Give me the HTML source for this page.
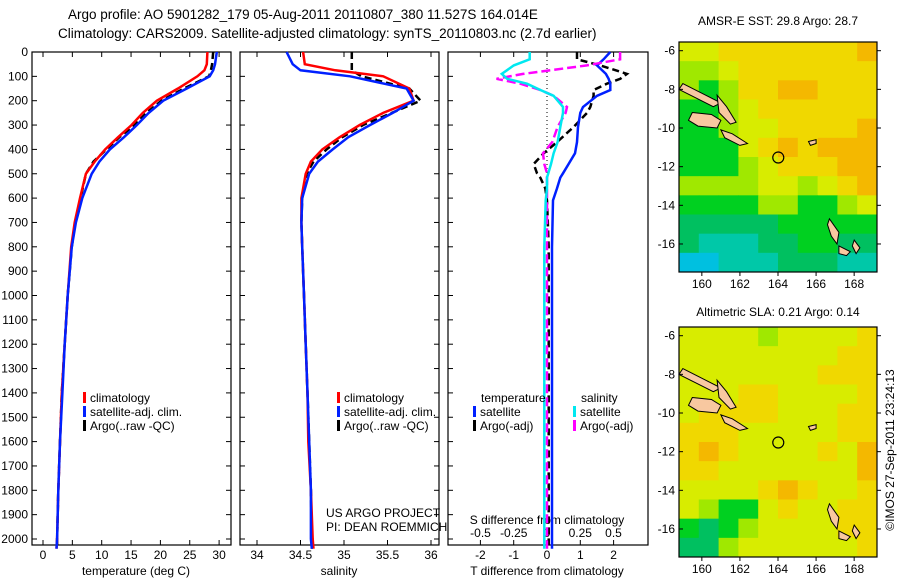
<!DOCTYPE html>
<html><head><meta charset="utf-8"><style>
html,body{margin:0;padding:0;background:#fff;}
svg{display:block;font-family:"Liberation Sans",sans-serif;}
text{fill:#000;}
</style></head><body>
<svg id="c" width="900" height="580" viewBox="0 0 900 580" xmlns="http://www.w3.org/2000/svg">
<text x="68" y="19" font-size="13.5">Argo profile: AO 5901282_179 05-Aug-2011 20110807_380 11.527S 164.014E</text>
<text x="58" y="38" font-size="13.5">Climatology: CARS2009. Satellite-adjusted climatology: synTS_20110803.nc (2.7d earlier)</text>
<text x="778" y="25" font-size="12" text-anchor="middle">AMSR-E SST: 29.8 Argo: 28.7</text>
<text x="778" y="316" font-size="12" text-anchor="middle">Altimetric SLA: 0.21 Argo: 0.14</text>
<text transform="translate(894,450) rotate(-90)" font-size="12" text-anchor="middle">©IMOS 27-Sep-2011 23:24:13</text>
<g id="g"></g>
</svg>
<script>
// ---------- data ----------
const depthGrid = [0,50,75,100,150,200,250,300,350,400,450,500,600,700,800,1000,1200,1400,1600,1800,2000,2040];
const climT = [28.0,27.9,27.5,26.3,23.0,19.4,17.0,15.1,12.8,10.6,8.8,7.3,6.3,5.4,4.8,4.2,3.7,3.2,2.9,2.6,2.4,2.3];
const satT  = [29.6,29.3,29.0,28.4,24.5,20.5,18.0,16.0,13.8,11.4,9.6,8.3,6.7,5.6,4.9,4.2,3.7,3.3,2.9,2.6,2.4,2.3];
const argoT = [29.0,28.8,28.6,28.3,24.0,20.2,17.6,15.6,13.0,10.8,8.6,7.3,6.4,5.5,4.9,4.2,3.7,3.2,2.9,2.6,2.4,2.4];
const climS = [34.53,34.55,34.9,35.45,35.75,35.8,35.45,35.18,34.95,34.75,34.62,34.56,34.51,34.51,34.52,34.54,34.56,34.58,34.59,34.62,34.64,34.65];
const satS  = [34.34,34.41,34.5,35.07,35.72,35.8,35.56,35.3,35.05,34.87,34.7,34.6,34.52,34.51,34.52,34.54,34.56,34.58,34.6,34.62,34.62,34.63];
const argoS = [35.09,35.09,35.09,35.2,35.75,35.88,35.55,35.22,34.98,34.8,34.65,34.57,34.52,34.51,34.52,34.54,34.56,34.58,34.6,34.62,34.63,34.63];
const diffDepth = [0,30,55,90,110,130,156,180,226,250,308,370,416,460,498,516,560,609,800,1200,1600,2040];
const satTdiff  = [1.9,1.7,1.5,1.77,1.85,1.9,1.9,1.5,1.08,1.0,0.93,0.9,0.84,0.65,0.48,0.4,0.3,0.18,0.15,0.15,0.15,0.15];
const argoTdiff = [0.9,0.9,1.6,2.4,2.2,1.8,1.4,1.4,1.3,1.2,0.8,0.3,-0.1,-0.4,-0.3,-0.2,-0.05,0.0,0.05,0.05,0.05,0.05];
const satSdiff  = [-0.13,-0.13,-0.25,-0.34,-0.3,-0.15,-0.05,0.05,0.12,0.12,0.1,0.08,0.05,0.03,0.01,0.0,0.0,-0.01,-0.02,-0.02,-0.02,-0.02];
const argoSdiff = [0.55,0.55,0.3,-0.18,-0.38,-0.2,-0.05,0.05,0.15,0.14,0.08,0.04,-0.03,-0.02,0.0,0.0,0.0,0.0,0.0,0.0,0.0,0.0];
const depthTicks = [0,100,200,300,400,500,600,700,800,900,1000,1100,1200,1300,1400,1500,1600,1700,1800,1900,2000];
const tempTicks = [0,5,10,15,20,25,30];
const salTicks = [34,34.5,35,35.5,36];
const tdiffTicks = [-2,-1,0,1,2];
const sdiffTicks = [-0.5,-0.25,0,0.25,0.5];
const sstGrid = [
[7,7,8,8,8,8,8,8,8,9],
[6,6,7,8,8,8,8,8,8,8],
[6,5,6,8,8,9,9,8,8,8],
[5,5,6,7,8,8,8,8,8,8],
[5,5,6,7,7,8,8,8,8,9],
[5,5,5,7,8,9,8,9,9,9],
[5,5,5,6,7,8,8,8,9,9],
[6,6,6,6,7,7,6,7,8,9],
[5,5,5,5,6,6,5,5,6,7],
[4,4,4,4,4,5,5,5,5,5],
[4,3,3,3,4,4,5,5,4,4],
[2,2,3,3,3,4,4,4,3,3]];
const slaGrid = [
[7,7,7,7,6,7,7,7,7,8],
[7,7,7,7,7,7,7,7,8,8],
[7,7,7,7,7,7,7,8,8,8],
[7,7,7,8,8,7,7,7,7,8],
[7,8,8,8,8,7,7,7,8,8],
[8,8,8,7,7,7,7,7,8,8],
[8,9,8,7,7,7,7,8,7,9],
[8,8,7,7,7,7,7,7,7,9],
[7,7,7,7,8,9,8,7,7,8],
[7,6,5,5,7,8,7,7,8,8],
[5,4,5,6,7,7,7,7,8,8],
[4,4,6,7,7,7,7,7,7,8]];
const latTicks = [-6,-8,-10,-12,-14,-16];
const lonTicks = [160,162,164,166,168];

// ---------- helpers ----------
const NS="http://www.w3.org/2000/svg", G=document.getElementById('g');
function mk(tag,attrs,parent){const e=document.createElementNS(NS,tag);for(const k in attrs)e.setAttribute(k,attrs[k]);(parent||G).appendChild(e);return e;}
function txt(s,x,y,attrs,parent){const e=mk('text',Object.assign({x:x,y:y,'font-size':12},attrs||{}),parent);e.textContent=s;return e;}
const TOP=52, BOT=545;
const yD = d => TOP + d*0.2435;
const xT = v => 43 + v*5.87;
const xS = v => 257 + (v-34)*87;
const xTd = v => 547 + v*33.3;
const xSd = v => 547 + v*133;

function frame(x0,x1,name){
  const r=mk('rect',{x:x0,y:TOP,width:x1-x0,height:BOT-TOP,fill:'none',stroke:'#000','stroke-width':1.2});
  
  
}
function line(xs,ds,fx,color,dash,name){
  const p=xs.map((v,i)=>fx(v).toFixed(1)+','+yD(ds[i]).toFixed(1)).join(' ');
  const e=mk('polyline',{points:p,fill:'none',stroke:color,'stroke-width':2.5});
  if(dash)e.setAttribute('stroke-dasharray',dash);
  
  
}
function xticks(ticks,fx,name){
  ticks.forEach(t=>{
    mk('line',{x1:fx(t),x2:fx(t),y1:BOT,y2:BOT-5,stroke:'#000'});
    mk('line',{x1:fx(t),x2:fx(t),y1:TOP,y2:TOP+5,stroke:'#000'});
    const e=txt(String(t),fx(t),559,{'text-anchor':'middle'});
    
    
  });
}

frame(32,231,'temperature-panel'); frame(240,439,'salinity-panel'); frame(448,648,'difference-panel');
depthTicks.forEach(d=>{
  mk('line',{x1:32,x2:37,y1:yD(d),y2:yD(d),stroke:'#000'});
  mk('line',{x1:226,x2:231,y1:yD(d),y2:yD(d),stroke:'#000'});
  mk('line',{x1:240,x2:245,y1:yD(d),y2:yD(d),stroke:'#000'});
  mk('line',{x1:434,x2:439,y1:yD(d),y2:yD(d),stroke:'#000'});
  mk('line',{x1:448,x2:453,y1:yD(d),y2:yD(d),stroke:'#000'});
  const e=txt(String(d),28,yD(d)+4,{'text-anchor':'end'});
  
  
});
xticks(tempTicks,xT,'temperature-tick-label');
xticks(salTicks,xS,'salinity-tick-label');
xticks(tdiffTicks,xTd,'t-diff-tick-label');
sdiffTicks.forEach(t=>{const e=txt(String(t),xSd(t),537,{'text-anchor':'middle'});
  
  });
[['temperature (deg C)',136,575,'temperature-axis-title'],['salinity',339,575,'salinity-axis-title'],['T difference from climatology',547,575,'t-diff-axis-title'],['S difference from climatology',547,524,'s-diff-axis-title']].forEach(a=>{
  const e=txt(a[0],a[1],a[2],{'text-anchor':'middle'});
  
  
});
mk('line',{x1:xTd(0),x2:xTd(0),y1:TOP,y2:yD(620),stroke:'#000','stroke-dasharray':'1,3'});

line(argoT,depthGrid,xT,'#000','7,4','argo-temperature-line');
line(climT,depthGrid,xT,'#f00',null,'climatology-temperature-line');
line(satT,depthGrid,xT,'#0020ff',null,'satellite-temperature-line');
line(argoS,depthGrid,xS,'#000','7,4','argo-salinity-line');
line(climS,depthGrid,xS,'#f00',null,'climatology-salinity-line');
line(satS,depthGrid,xS,'#0020ff',null,'satellite-salinity-line');
line(argoTdiff,diffDepth,xTd,'#000','7,4','argo-t-diff-line');
line(satTdiff,diffDepth,xTd,'#0020ff',null,'satellite-t-diff-line');
line(argoSdiff,diffDepth,xSd,'#ff00ff','9,4','argo-s-diff-line');
line(satSdiff,diffDepth,xSd,'#00e8f0',null,'satellite-s-diff-line');

function leg(x,y,color,label,name){
  mk('rect',{x:x,y:y-10,width:3,height:11,fill:color});
  const e=txt(label,x+7,y,{});
  
  
}
leg(83,402,'#f00','climatology','legend-climatology');
leg(83,416,'#0020ff','satellite-adj. clim.','legend-satellite');
leg(83,430,'#000','Argo(..raw -QC)','legend-argo');
leg(337,402,'#f00','climatology','legend-climatology-sal');
leg(337,416,'#0020ff','satellite-adj. clim.','legend-satellite-sal');
leg(337,430,'#000','Argo(..raw -QC)','legend-argo-sal');
txt('temperature',481,402);
txt('salinity',581,402);
leg(473,416,'#0020ff','satellite','legend-t-satellite');
leg(473,430,'#000','Argo(-adj)','legend-t-argo');
leg(573,416,'#00e8f0','satellite','legend-s-satellite');
leg(573,430,'#ff00ff','Argo(-adj)','legend-s-argo');
txt('US ARGO PROJECT',326,517);
txt('PI: DEAN ROEMMICH',326,531);

const palette=['#0050ff','#0098ff','#00c0e0','#00c8a8','#00c060','#00d020','#a0e800','#d8ec00','#f0d800','#f4b800'];
const LON0=158.8, LON1=169.2, LAT0=-5.55, LAT1=-17.45;
function map(top,grid,name){
  const x0=679,x1=877,bot=top+230;
  const fx=lon=>x0+(lon-LON0)*(x1-x0)/(LON1-LON0);
  const fy=lat=>top+(lat-LAT0)*(bot-top)/(LAT1-LAT0);
  const g=mk('g',{});
  
  
  const rows=grid.length, cols=grid[0].length;
  const cw=(x1-x0)/cols, ch=(bot-top)/rows;
  grid.forEach((row,r)=>row.forEach((v,c)=>{
    const e=mk('rect',{x:x0+c*cw,y:top+r*ch,width:cw+0.5,height:ch+0.5,fill:palette[v]},g);
    
    
  }));
  const isl=[
    [[159,-7.7],[160.2,-8.3],[161,-8.7],[160.6,-8.9],[159.6,-8.4],[158.8,-8.0]],
    [[159.5,-9.2],[160.5,-9.3],[161,-9.6],[160.8,-10],[159.8,-9.9],[159.3,-9.6]],
    [[160.8,-8.3],[161.3,-8.9],[161.8,-9.7],[161.5,-9.8],[160.9,-9.2]],
    [[161,-10.1],[161.6,-10.3],[162.4,-10.8],[162,-10.9],[161.2,-10.5]],
    [[166.7,-14.7],[167.2,-15.4],[167.1,-16],[166.8,-15.6],[166.6,-15.0]],
    [[167.2,-16.1],[167.8,-16.4],[167.6,-16.6],[167.2,-16.5]],
    [[165.6,-10.7],[166,-10.6],[166,-10.8],[165.7,-10.9]],
    [[168.0,-15.8],[168.3,-16.2],[168.1,-16.5],[167.9,-16.1]]
  ];
  isl.forEach(pts=>{
    const e=mk('polygon',{points:pts.map(p=>fx(p[0]).toFixed(1)+','+fy(p[1]).toFixed(1)).join(' '),fill:'#f8c8a0',stroke:'#000','stroke-width':1},g);
    
    
  });
  const m=mk('circle',{cx:fx(164.014),cy:fy(-11.527),r:5.5,fill:'none',stroke:'#000','stroke-width':1.2},g);
  
  
  mk('rect',{x:x0,y:top,width:x1-x0,height:bot-top,fill:'none',stroke:'#000','stroke-width':1.2},g);
  latTicks.forEach(l=>{
    mk('line',{x1:x0,x2:x0+4,y1:fy(l),y2:fy(l),stroke:'#000'},g);
    mk('line',{x1:x1,x2:x1+4,y1:fy(l),y2:fy(l),stroke:'#000'},g);
    const e=txt(String(l),x0-4,fy(l)+4,{'text-anchor':'end'},g);
    
    
  });
  lonTicks.forEach(l=>{
    mk('line',{x1:fx(l),x2:fx(l),y1:bot,y2:bot+4,stroke:'#000'},g);
    const e=txt(String(l),fx(l),bot+16,{'text-anchor':'middle'},g);
    
    
  });
}
map(42,sstGrid,'sst-map');
map(327,slaGrid,'sla-map');
</script>
</body></html>
